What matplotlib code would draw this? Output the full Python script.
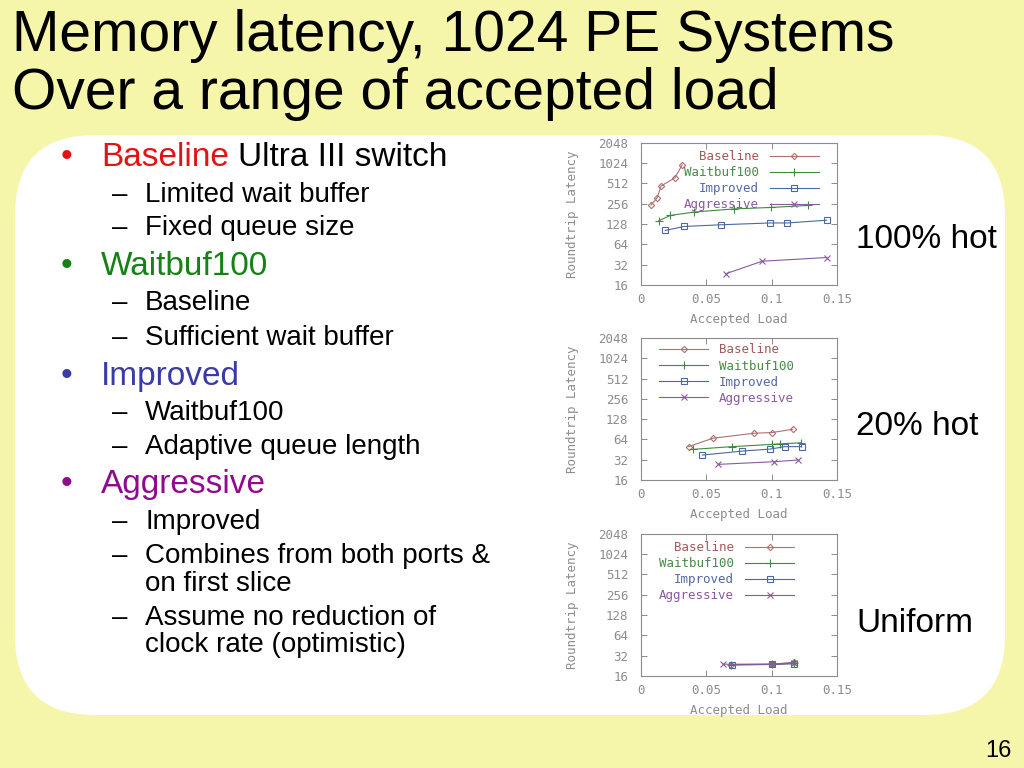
import matplotlib.pyplot as plt
from matplotlib.patches import FancyBboxPatch

# series shared by the three panels
series_names = ['Baseline', 'Waitbuf100', 'Improved', 'Aggressive']
line_colors = ['#b07070', '#3f8a3f', '#4a6a9e', '#8a5a9c']
text_colors = ['#a05a5a', '#4a8a4a', '#5468a0', '#8a58a0']
markers = ['D', '+', 's', 'x']
marker_sizes = [3.2, 6, 4.5, 5]

# 100% hot
hot100_base_x = [0.0077, 0.0123, 0.0154, 0.026, 0.0315]
hot100_base_y = [246, 313, 471, 622, 969]
hot100_wait_x = [0.0135, 0.0224, 0.0407, 0.0712, 0.0997, 0.128]
hot100_wait_y = [143, 172, 193, 215, 226, 242]
hot100_impr_x = [0.0186, 0.033, 0.0615, 0.099, 0.112, 0.142]
hot100_impr_y = [103, 118, 125, 133, 133, 146]
hot100_aggr_x = [0.0653, 0.0928, 0.142]
hot100_aggr_y = [23.6, 36, 40.8]

# 20% hot
hot20_base_x = [0.0364, 0.055, 0.0864, 0.1002, 0.1162]
hot20_base_y = [50, 66.7, 79, 81, 90.5]
hot20_wait_x = [0.040, 0.0694, 0.1, 0.106, 0.1225]
hot20_wait_y = [45.6, 50, 54, 55, 57]
hot20_impr_x = [0.047, 0.0775, 0.0989, 0.110, 0.123]
hot20_impr_y = [37.5, 43, 46, 50, 50]
hot20_aggr_x = [0.0592, 0.102, 0.120]
hot20_aggr_y = [27.3, 29.9, 31.7]

# uniform
unif_base_x = [0.069, 0.100, 0.117]
unif_base_y = [23.5, 23.8, 25.5]
unif_wait_x = [0.069, 0.100, 0.117]
unif_wait_y = [23.4, 23.7, 24.5]
unif_impr_x = [0.070, 0.100, 0.117]
unif_impr_y = [23.2, 23.6, 24.2]
unif_aggr_x = [0.0631, 0.100, 0.117]
unif_aggr_y = [23.8, 23.8, 24.8]

y_ticks = [16, 32, 64, 128, 256, 512, 1024, 2048]
x_ticks = [0, 0.05, 0.1, 0.15]
x_tick_labels = ['0', '0.05', '0.1', '0.15']

panel_labels = ['100% hot', '20% hot', 'Uniform']

bullets = [
    ('Baseline', ' Ultra III switch', '#e01414', 166),
    ('Waitbuf100', '', '#148214', 275),
    ('Improved', '', '#3a3aa8', 385),
    ('Aggressive', '', '#900a90', 493),
]
sub_items = [
    ('Limited wait buffer', 202, True),
    ('Fixed queue size', 235, True),
    ('Baseline', 310, True),
    ('Sufficient wait buffer', 345, True),
    ('Waitbuf100', 420, True),
    ('Adaptive queue length', 454, True),
    ('Improved', 529, True),
    ('Combines from both ports &', 563, True),
    ('on first slice', 591, False),
    ('Assume no reduction of', 625, True),
    ('clock rate (optimistic)', 652, False),
]

SANS = 'Liberation Sans'
MONO = 'DejaVu Sans Mono'
GREY = '#8c8c8c'

fig = plt.figure(figsize=(10.24, 7.68), dpi=100, facecolor='#f6f6aa')

# slide background in pixel coordinates
bg = fig.add_axes([0, 0, 1, 1])
bg.set_xlim(0, 1024)
bg.set_ylim(768, 0)
bg.axis('off')
bg.add_patch(FancyBboxPatch((15, 135), 990, 580,
                            boxstyle='round,pad=0,rounding_size=80',
                            fc='white', ec='none'))

bg.text(12, 51, 'Memory latency, 1024 PE Systems', fontsize=41,
        family=SANS, va='baseline')
bg.text(12, 109, 'Over a range of accepted load', fontsize=41,
        family=SANS, va='baseline')

fig.canvas.draw()
renderer = fig.canvas.get_renderer()
for word, rest, col, yy in bullets:
    bg.text(61, yy, '\u2022', fontsize=24, family=SANS, color=col, va='baseline')
    t = bg.text(101, yy, word, fontsize=24, family=SANS, color=col, va='baseline')
    if rest:
        w = t.get_window_extent(renderer).width
        bg.text(101 + w + 9, yy, rest.strip(), fontsize=24, family=SANS,
                va='baseline')

for txt, yy, dash in sub_items:
    if dash:
        bg.text(112, yy, '\u2013', fontsize=20, family=SANS, va='baseline')
    bg.text(145, yy, txt, fontsize=20, family=SANS, va='baseline')

bg.text(856, 248, panel_labels[0], fontsize=24, family=SANS, va='baseline')
bg.text(856, 435, panel_labels[1], fontsize=24, family=SANS, va='baseline')
bg.text(856, 632, panel_labels[2], fontsize=24, family=SANS, va='baseline')
bg.text(1012, 757, '16', fontsize=17, family=SANS, ha='right', va='baseline')

panels = [
    ([hot100_base_x, hot100_wait_x, hot100_impr_x, hot100_aggr_x],
     [hot100_base_y, hot100_wait_y, hot100_impr_y, hot100_aggr_y],
     0.629, 'upper right', (0.907, 0.95), False),
    ([hot20_base_x, hot20_wait_x, hot20_impr_x, hot20_aggr_x],
     [hot20_base_y, hot20_wait_y, hot20_impr_y, hot20_aggr_y],
     0.375, 'upper left', (0.093, 0.962), True),
    ([unif_base_x, unif_wait_x, unif_impr_x, unif_aggr_x],
     [unif_base_y, unif_wait_y, unif_impr_y, unif_aggr_y],
     0.120, 'upper right', (0.78, 0.95), False),
]

for xs, ys, bottom, loc, anchor, mfirst in panels:
    ax = fig.add_axes([641 / 1024, bottom, 196 / 1024, 142 / 768])
    ax.set_facecolor('white')
    for i in range(4):
        ax.plot(xs[i], ys[i], color=line_colors[i], lw=0.8,
                marker=markers[i], ms=marker_sizes[i], mfc='none',
                mew=0.8, label=series_names[i])
    ax.set_yscale('log', base=2)
    ax.set_ylim(16, 2048)
    ax.set_xlim(0, 0.15)
    ax.set_yticks(y_ticks)
    ax.set_yticklabels([str(v) for v in y_ticks])
    ax.minorticks_off()
    ax.set_xticks(x_ticks)
    ax.set_xticklabels(x_tick_labels)
    ax.tick_params(direction='in', length=4, width=0.7, color=GREY,
                   top=True, right=True, labelsize=9, labelcolor=GREY)
    ax.tick_params(axis='y', pad=9)
    ax.tick_params(axis='x', pad=6)
    for lab in ax.get_xticklabels() + ax.get_yticklabels():
        lab.set_family(MONO)
    for sp in ax.spines.values():
        sp.set_color(GREY)
        sp.set_linewidth(0.8)
    ax.set_ylabel('Roundtrip Latency', family=MONO, fontsize=9,
                  color=GREY, labelpad=14)
    ax.set_xlabel('Accepted Load', family=MONO, fontsize=9,
                  color=GREY, labelpad=5)
    leg = ax.legend(loc=loc, bbox_to_anchor=anchor, frameon=False,
                    markerfirst=mfirst, numpoints=1, handlelength=3.9,
                    handletextpad=0.9, labelspacing=0.25, borderpad=0,
                    borderaxespad=0, prop={'family': MONO, 'size': 9})
    for txt, col in zip(leg.get_texts(), text_colors):
        txt.set_color(col)

fig.savefig('out.png', dpi=100, facecolor=fig.get_facecolor())
